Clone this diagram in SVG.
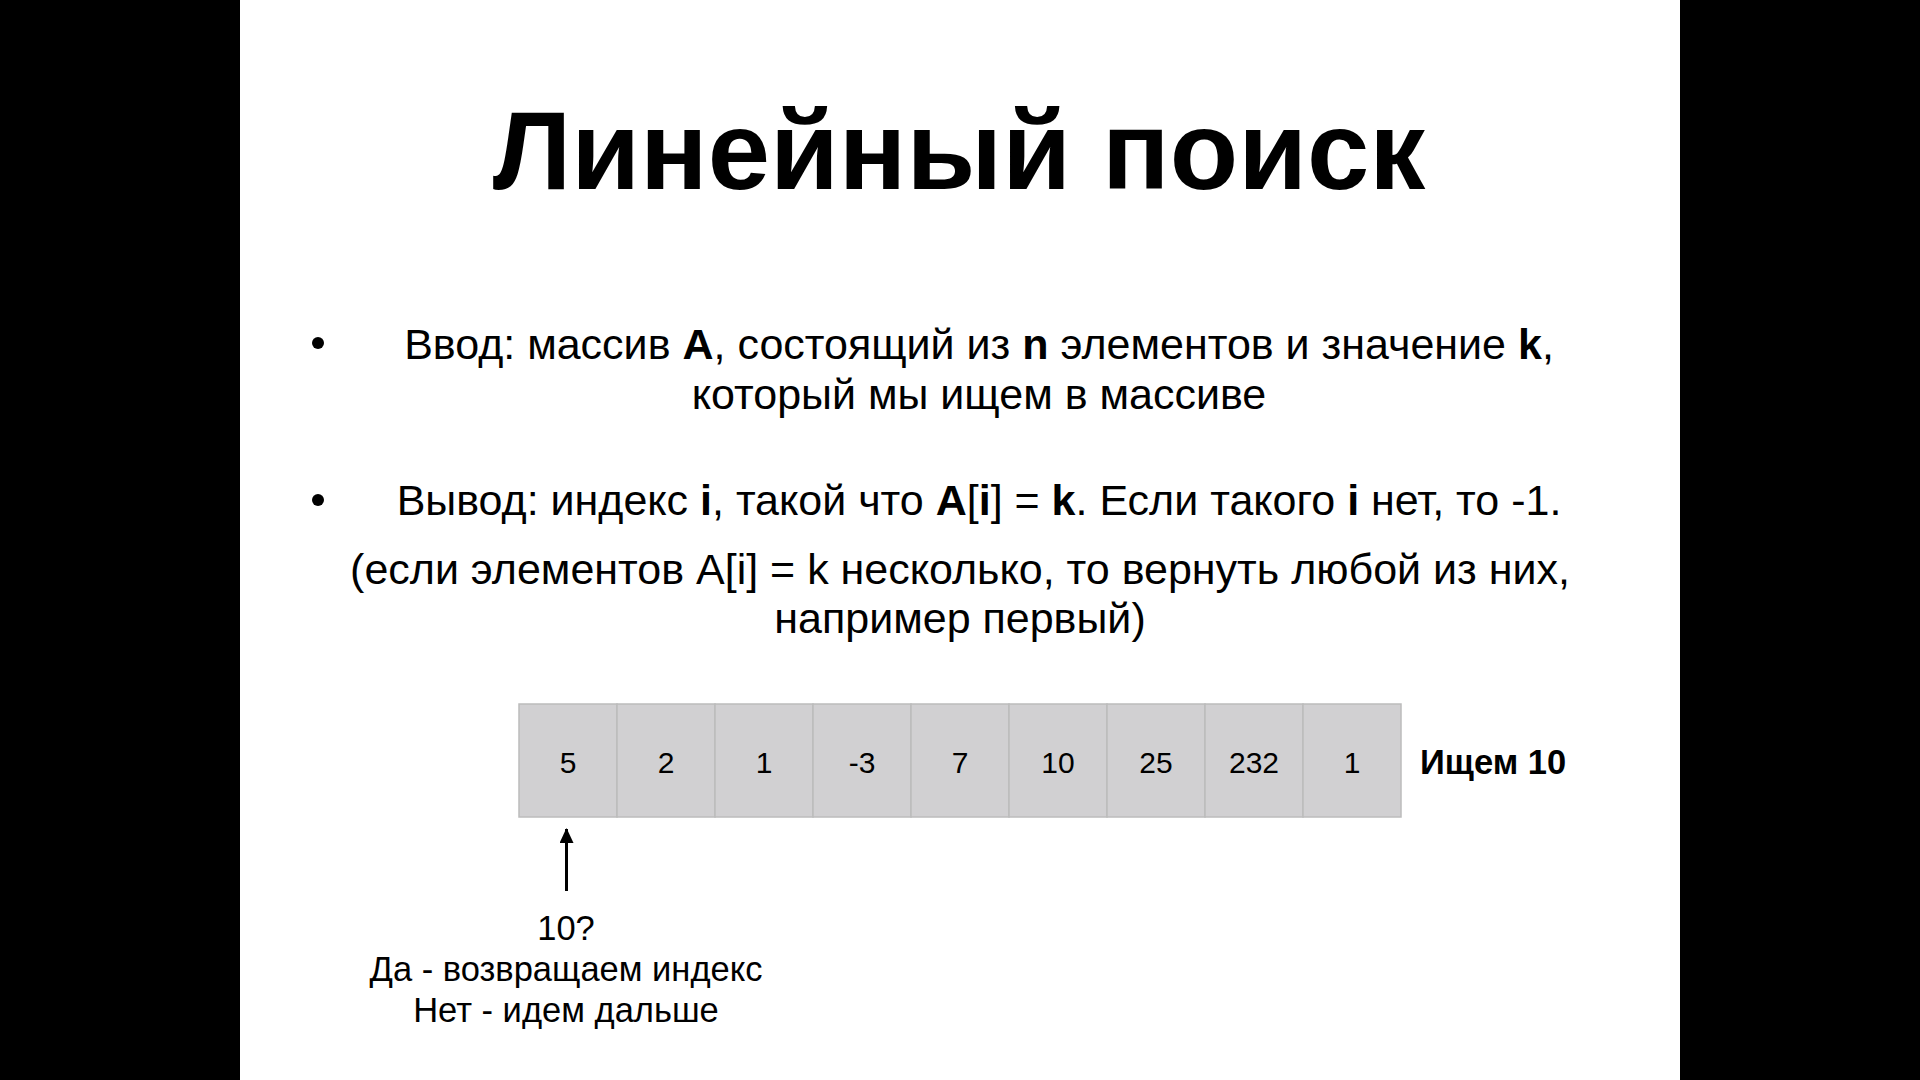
<svg xmlns="http://www.w3.org/2000/svg" width="1920" height="1080" viewBox="0 0 1920 1080">
<style>
text{font-family:"Liberation Sans",Arial,sans-serif;fill:#000}
.title{font-size:112px;font-weight:bold}
.body{font-size:43px}
.b{font-weight:bold}
.cell rect{fill:#d1d0d2;stroke:#bcbcbc;stroke-width:1.5}
.cell text{font-size:30px;text-anchor:middle}
.note{font-size:34.5px;text-anchor:middle}
</style>
<defs>
<marker id="ah" markerWidth="15" markerHeight="14" refX="14" refY="7" orient="auto" markerUnits="userSpaceOnUse" viewBox="0 0 15 14">
<path d="M0,0 L15,7 L0,14 Z" fill="#000"/>
</marker>
</defs>
<rect x="0" y="0" width="1920" height="1080" fill="#000"/>
<rect x="240" y="0" width="1440" height="1080" fill="#fff"/>
<text class="title" x="959" y="189" text-anchor="middle">Линейный поиск</text>
<g id="bullet1">
<circle cx="318" cy="343" r="6" fill="#000"/>
<text class="body" x="979" y="359" text-anchor="middle">Ввод: массив <tspan class="b">A</tspan>, состоящий из <tspan class="b">n</tspan> элементов и значение <tspan class="b">k</tspan>,</text>
<text class="body" x="979" y="409" text-anchor="middle">который мы ищем в массиве</text>
</g>
<g id="bullet2">
<circle cx="318" cy="500" r="6" fill="#000"/>
<text class="body" x="979" y="515" text-anchor="middle">Вывод: индекс <tspan class="b">i</tspan>, такой что <tspan class="b">A</tspan>[<tspan class="b">i</tspan>] = <tspan class="b">k</tspan>. Если такого <tspan class="b">i</tspan> нет, то -1.</text>
<text class="body" x="960" y="584" text-anchor="middle">(если элементов A[i] = k несколько, то вернуть любой из них,</text>
<text class="body" x="960" y="633" text-anchor="middle">например первый)</text>
</g>
<g id="array" class="cell">
<g id="c0"><rect x="519" y="704" width="98" height="113"/><text x="568" y="773">5</text></g>
<g id="c1"><rect x="617" y="704" width="98" height="113"/><text x="666" y="773">2</text></g>
<g id="c2"><rect x="715" y="704" width="98" height="113"/><text x="764" y="773">1</text></g>
<g id="c3"><rect x="813" y="704" width="98" height="113"/><text x="862" y="773">-3</text></g>
<g id="c4"><rect x="911" y="704" width="98" height="113"/><text x="960" y="773">7</text></g>
<g id="c5"><rect x="1009" y="704" width="98" height="113"/><text x="1058" y="773">10</text></g>
<g id="c6"><rect x="1107" y="704" width="98" height="113"/><text x="1156" y="773">25</text></g>
<g id="c7"><rect x="1205" y="704" width="98" height="113"/><text x="1254" y="773">232</text></g>
<g id="c8"><rect x="1303" y="704" width="98" height="113"/><text x="1352" y="773">1</text></g>
</g>
<text id="search" x="1420" y="774" font-size="34.5" font-weight="bold">Ищем 10</text>
<g id="connectors">
<line x1="566.5" y1="891" x2="566.5" y2="829" stroke="#000" stroke-width="3" marker-end="url(#ah)"/>
</g>
<g id="note">
<text class="note" x="566" y="940">10?</text>
<text class="note" x="566" y="981">Да - возвращаем индекс</text>
<text class="note" x="566" y="1022">Нет - идем дальше</text>
</g>
</svg>
